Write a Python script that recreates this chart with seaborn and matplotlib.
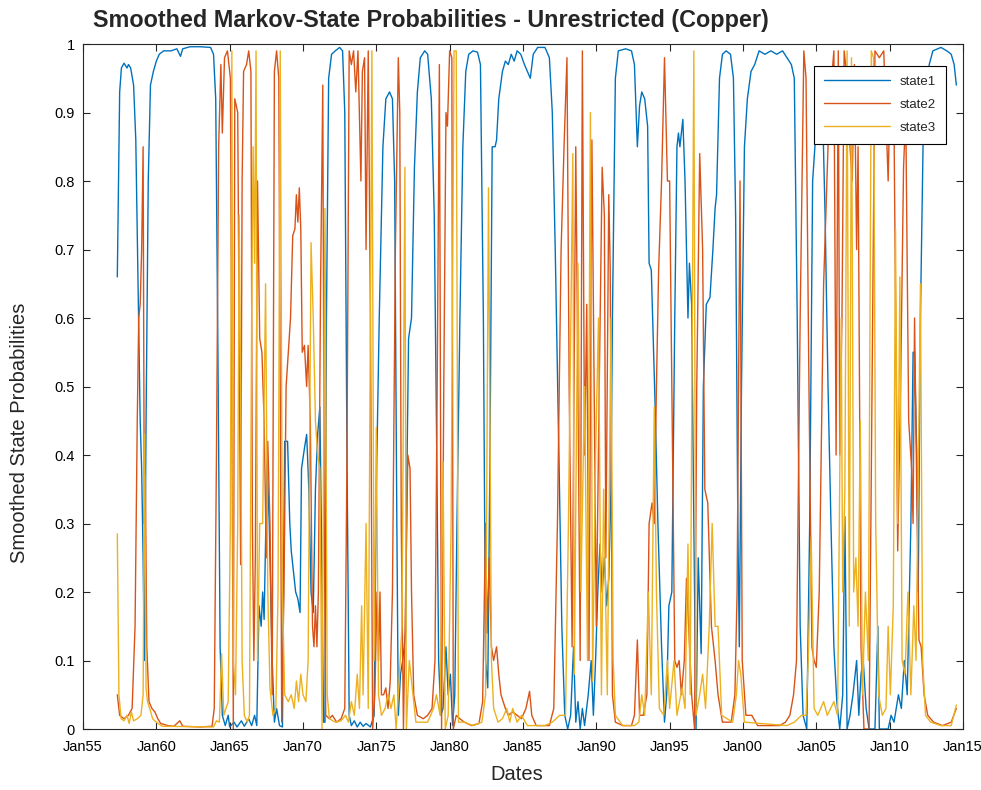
import numpy as np
import pandas as pd
import matplotlib
matplotlib.use("Agg")
import matplotlib.pyplot as plt
import seaborn as sns

# Smoothed probabilities of the three Markov states (decimal year, probability)
state1_t = [1957.34, 1957.5, 1957.62, 1957.8, 1958.0, 1958.1, 1958.25, 1958.45, 1958.6, 1958.75,
            1958.9, 1959.0, 1959.1, 1959.18, 1959.3, 1959.45, 1959.6, 1959.8, 1960.0, 1960.2,
            1960.5, 1961.0, 1961.4, 1961.65, 1961.8, 1962.3, 1963.0, 1963.7, 1963.9, 1964.05,
            1964.2, 1964.35, 1964.5, 1964.7, 1964.9, 1965.0, 1965.3, 1965.5, 1965.8, 1966.0,
            1966.3, 1966.5, 1966.7, 1966.85, 1967.0, 1967.15, 1967.25, 1967.35, 1967.55, 1967.7,
            1967.9, 1968.05, 1968.2, 1968.4, 1968.6, 1968.75, 1968.95, 1969.1, 1969.2, 1969.3,
            1969.5, 1969.65, 1969.8, 1969.9, 1970.1, 1970.25, 1970.4, 1970.55, 1970.7, 1970.85,
            1971.0, 1971.15, 1971.25, 1971.4, 1971.5, 1971.6, 1971.75, 1971.95, 1972.2, 1972.5,
            1972.7, 1972.85, 1973.0, 1973.15, 1973.3, 1973.5, 1973.7, 1973.9, 1974.1, 1974.3,
            1974.6, 1974.85, 1975.0, 1975.2, 1975.45, 1975.65, 1975.9, 1976.1, 1976.25, 1976.4,
            1976.5, 1976.65, 1976.8, 1977.0, 1977.1, 1977.2, 1977.4, 1977.6, 1977.8, 1978.0,
            1978.3, 1978.5, 1978.75, 1978.95, 1979.1, 1979.25, 1979.4, 1979.55, 1979.75, 1979.9,
            1980.05, 1980.2, 1980.35, 1980.5, 1980.7, 1980.9, 1981.1, 1981.3, 1981.6, 1981.9,
            1982.1, 1982.3, 1982.45, 1982.6, 1982.75, 1982.9, 1983.1, 1983.2, 1983.35, 1983.6,
            1983.8, 1984.0, 1984.2, 1984.4, 1984.6, 1984.85, 1985.1, 1985.3, 1985.5, 1985.7,
            1986.0, 1986.5, 1986.8, 1987.0, 1987.2, 1987.45, 1987.65, 1987.85, 1988.05, 1988.25,
            1988.45, 1988.6, 1988.75, 1988.9, 1989.05, 1989.2, 1989.45, 1989.65, 1989.8, 1989.95,
            1990.1, 1990.25, 1990.4, 1990.55, 1990.7, 1990.85, 1991.0, 1991.1, 1991.3, 1991.5,
            1992.0, 1992.4, 1992.6, 1992.8, 1992.95, 1993.1, 1993.3, 1993.5, 1993.6, 1993.75,
            1994.0, 1994.2, 1994.45, 1994.65, 1994.8, 1994.95, 1995.15, 1995.35, 1995.5, 1995.6,
            1995.7, 1995.9, 1996.05, 1996.25, 1996.35, 1996.5, 1996.65, 1996.8, 1996.95, 1997.15,
            1997.3, 1997.5, 1997.75, 1997.95, 1998.1, 1998.2, 1998.4, 1998.6, 1998.85, 1999.15,
            1999.35, 1999.5, 1999.65, 1999.75, 1999.9, 2000.1, 2000.3, 2000.55, 2000.8, 2001.1,
            2001.5, 2001.9, 2002.3, 2002.7, 2003.0, 2003.3, 2003.5, 2003.7, 2003.9, 2004.1,
            2004.35, 2004.55, 2004.75, 2005.0, 2005.2, 2005.4, 2005.6, 2005.8, 2006.0, 2006.2,
            2006.4, 2006.6, 2006.8, 2006.95, 2007.1, 2007.3, 2007.5, 2007.75, 2007.9, 2008.05,
            2008.2, 2008.4, 2008.6, 2009.0, 2009.2, 2009.3, 2009.9, 2010.1, 2010.3, 2010.6,
            2010.8, 2011.0, 2011.2, 2011.45, 2011.6, 2011.7, 2011.85, 2011.95, 2012.1, 2012.3,
            2012.5, 2012.7, 2012.95, 2013.5, 2013.9, 2014.2, 2014.4, 2014.55]
state1_p = [0.66, 0.93, 0.965, 0.972, 0.965, 0.97, 0.965, 0.94, 0.86, 0.65,
            0.45, 0.38, 0.25, 0.10, 0.45, 0.8, 0.94, 0.96, 0.975, 0.985,
            0.99, 0.99, 0.993, 0.982, 0.993, 0.996, 0.996, 0.995, 0.985, 0.92,
            0.55, 0.12, 0.02, 0.005, 0.02, 0.003, 0.01, 0.003, 0.012, 0.004,
            0.015, 0.005, 0.02, 0.005, 0.18, 0.15, 0.2, 0.16, 0.39, 0.3,
            0.1, 0.01, 0.03, 0.005, 0.003, 0.42, 0.42, 0.3, 0.26, 0.24,
            0.2, 0.19, 0.17, 0.38, 0.41, 0.43, 0.35, 0.2, 0.17, 0.35,
            0.43, 0.47, 0.3, 0.01, 0.01, 0.6, 0.95, 0.985, 0.99, 0.995,
            0.99, 0.9, 0.4, 0.02, 0.005, 0.012, 0.003, 0.01, 0.004, 0.008,
            0.003, 0.02, 0.35, 0.6, 0.85, 0.92, 0.93, 0.92, 0.8, 0.3,
            0.02, 0.08, 0.1, 0.14, 0.4, 0.57, 0.6, 0.82, 0.93, 0.98,
            0.99, 0.985, 0.92, 0.75, 0.45, 0.1, 0.02, 0.03, 0.12, 0.05,
            0.08, 0.005, 0.05, 0.3, 0.6, 0.85, 0.96, 0.985, 0.99, 0.988,
            0.97, 0.6, 0.1, 0.06, 0.4, 0.85, 0.85, 0.86, 0.92, 0.96,
            0.975, 0.97, 0.985, 0.975, 0.99, 0.985, 0.97, 0.96, 0.95, 0.985,
            0.995, 0.995, 0.98, 0.9, 0.7, 0.4, 0.15, 0.02, 0.0, 0.02,
            0.12, 0.01, 0.04, 0.0, 0.03, 0.005, 0.05, 0.1, 0.02, 0.1,
            0.2, 0.27, 0.2, 0.25, 0.18, 0.22, 0.35, 0.6, 0.95, 0.99,
            0.993, 0.99, 0.97, 0.85, 0.91, 0.93, 0.92, 0.88, 0.68, 0.67,
            0.48, 0.3, 0.12, 0.01, 0.05, 0.18, 0.2, 0.6, 0.85, 0.87,
            0.85, 0.89, 0.8, 0.6, 0.68, 0.62, 0.3, 0.0, 0.25, 0.11,
            0.5, 0.62, 0.63, 0.7, 0.76, 0.78, 0.95, 0.985, 0.99, 0.985,
            0.95, 0.75, 0.3, 0.12, 0.5, 0.85, 0.92, 0.96, 0.97, 0.99,
            0.985, 0.99, 0.985, 0.99, 0.98, 0.97, 0.95, 0.6, 0.15, 0.02,
            0.0, 0.3, 0.8, 0.88, 0.91, 0.93, 0.75, 0.5, 0.3, 0.12,
            0.04, 0.0, 0.05, 0.31, 0.0, 0.02, 0.05, 0.1, 0.02, 0.08,
            0.1, 0.03, 0.0, 0.0, 0.15, 0.0, 0.0, 0.02, 0.01, 0.05,
            0.03, 0.1, 0.05, 0.3, 0.55, 0.55, 0.4, 0.2, 0.6, 0.88,
            0.93, 0.97, 0.99, 0.995, 0.99, 0.985, 0.97, 0.94]

state2_t = [1957.34, 1957.5, 1957.8, 1958.1, 1958.35, 1958.55, 1958.7, 1958.8, 1958.9, 1959.0,
            1959.1, 1959.18, 1959.25, 1959.35, 1959.5, 1959.7, 1959.9, 1960.1, 1960.3, 1960.8,
            1961.2, 1961.6, 1961.8, 1963.0, 1963.8, 1963.95, 1964.1, 1964.25, 1964.4, 1964.5,
            1964.65, 1964.85, 1965.05, 1965.15, 1965.25, 1965.35, 1965.55, 1965.75, 1965.85, 1965.95,
            1966.15, 1966.3, 1966.45, 1966.55, 1966.65, 1966.75, 1966.9, 1967.05, 1967.2, 1967.35,
            1967.5, 1967.6, 1967.75, 1967.9, 1968.05, 1968.2, 1968.35, 1968.45, 1968.55, 1968.7,
            1968.85, 1969.0, 1969.15, 1969.3, 1969.45, 1969.55, 1969.65, 1969.75, 1969.85, 1969.95,
            1970.1, 1970.25, 1970.35, 1970.5, 1970.65, 1970.75, 1970.85, 1970.95, 1971.05, 1971.2,
            1971.35, 1971.45, 1971.55, 1971.8, 1972.0, 1972.3, 1972.6, 1972.85, 1973.0, 1973.15,
            1973.3, 1973.45, 1973.6, 1973.75, 1973.95, 1974.05, 1974.2, 1974.3, 1974.45, 1974.6,
            1974.75, 1974.9, 1975.05, 1975.15, 1975.25, 1975.35, 1975.5, 1975.65, 1975.8, 1975.95,
            1976.1, 1976.3, 1976.5, 1976.6, 1976.7, 1976.85, 1977.0, 1977.15, 1977.3, 1977.4,
            1977.55, 1977.8, 1978.2, 1978.5, 1978.8, 1979.0, 1979.15, 1979.3, 1979.45, 1979.6,
            1979.75, 1979.85, 1980.0, 1980.15, 1980.25, 1980.45, 1980.7, 1981.0, 1981.5, 1982.0,
            1982.25, 1982.45, 1982.55, 1982.7, 1982.85, 1983.0, 1983.2, 1983.35, 1983.5, 1983.8,
            1984.0, 1984.3, 1984.6, 1984.9, 1985.2, 1985.45, 1985.6, 1985.9, 1986.8, 1987.1,
            1987.35, 1987.6, 1987.8, 1988.0, 1988.15, 1988.35, 1988.6, 1988.75, 1988.9, 1989.05,
            1989.2, 1989.35, 1989.5, 1989.7, 1989.85, 1990.0, 1990.2, 1990.4, 1990.55, 1990.65,
            1990.85, 1990.95, 1991.1, 1991.3, 1991.8, 1992.4, 1992.6, 1992.8, 1992.95, 1993.2,
            1993.45, 1993.6, 1993.8, 1993.95, 1994.1, 1994.25, 1994.45, 1994.65, 1994.85, 1995.0,
            1995.15, 1995.35, 1995.5, 1995.65, 1995.8, 1996.0, 1996.15, 1996.3, 1996.5, 1996.7,
            1996.85, 1997.05, 1997.25, 1997.4, 1997.6, 1997.85, 1998.1, 1998.3, 1998.6, 1999.2,
            1999.45, 1999.6, 1999.8, 1999.95, 2000.2, 2000.6, 2001.0, 2002.5, 2002.9, 2003.2,
            2003.45, 2003.65, 2003.9, 2004.15, 2004.3, 2004.5, 2004.7, 2004.85, 2005.0, 2005.2,
            2005.5, 2005.8, 2006.05, 2006.2, 2006.35, 2006.5, 2006.6, 2006.75, 2006.9, 2007.1,
            2007.3, 2007.45, 2007.6, 2007.75, 2007.85, 2008.05, 2008.25, 2008.6, 2008.8, 2009.0,
            2009.3, 2009.6, 2009.9, 2010.05, 2010.3, 2010.55, 2010.75, 2010.95, 2011.1, 2011.3,
            2011.5, 2011.6, 2011.7, 2011.85, 2012.0, 2012.15, 2012.35, 2012.6, 2013.0, 2013.6,
            2014.2, 2014.55]
state2_p = [0.05, 0.02, 0.015, 0.02, 0.03, 0.15, 0.45, 0.6, 0.62, 0.7,
            0.85, 0.3, 0.37, 0.12, 0.04, 0.03, 0.025, 0.015, 0.008, 0.005,
            0.004, 0.012, 0.004, 0.003, 0.004, 0.03, 0.4, 0.85, 0.97, 0.87,
            0.98, 0.99, 0.95, 0.5, 0.0, 0.92, 0.9, 0.24, 0.8, 0.96,
            0.97, 0.99, 0.96, 0.3, 0.1, 0.25, 0.8, 0.57, 0.55, 0.45,
            0.25, 0.42, 0.3, 0.05, 0.96, 0.99, 0.95, 0.5, 0.01, 0.2,
            0.5, 0.55, 0.6, 0.72, 0.73, 0.78, 0.74, 0.79, 0.73, 0.55,
            0.56, 0.5, 0.56, 0.45, 0.15, 0.12, 0.18, 0.12, 0.2, 0.65,
            0.94, 0.3, 0.02, 0.015, 0.02, 0.01, 0.015, 0.03, 0.4, 0.99,
            0.97, 0.99, 0.93, 0.99, 0.8, 0.96, 0.98, 0.7, 0.99, 0.6,
            0.0, 0.05, 0.2, 0.1, 0.2, 0.05, 0.05, 0.06, 0.03, 0.07,
            0.2, 0.7, 0.98, 0.9, 0.3, 0.0, 0.2, 0.4, 0.38, 0.2,
            0.05, 0.02, 0.015, 0.02, 0.03, 0.1, 0.5, 0.97, 0.0, 0.5,
            0.9, 0.88, 0.99, 0.98, 0.0, 0.02, 0.015, 0.01, 0.005, 0.008,
            0.04, 0.3, 0.14, 0.25, 0.12, 0.1, 0.12, 0.08, 0.05, 0.03,
            0.02, 0.025, 0.02, 0.015, 0.03, 0.055, 0.02, 0.005, 0.005, 0.03,
            0.3, 0.7, 0.85, 0.98, 0.5, 0.12, 0.85, 0.5, 0.1, 0.99,
            0.4, 0.62, 0.1, 0.86, 0.5, 0.15, 0.5, 0.82, 0.75, 0.25,
            0.78, 0.67, 0.05, 0.01, 0.005, 0.005, 0.02, 0.13, 0.02, 0.02,
            0.05, 0.3, 0.33, 0.3, 0.5, 0.67, 0.8, 0.98, 0.8, 0.8,
            0.5, 0.1, 0.09, 0.1, 0.05, 0.1, 0.22, 0.15, 0.05, 0.0,
            0.5, 0.84, 0.7, 0.35, 0.33, 0.15, 0.1, 0.05, 0.01, 0.01,
            0.05, 0.2, 0.8, 0.1, 0.02, 0.02, 0.005, 0.005, 0.01, 0.02,
            0.05, 0.1, 0.6, 0.99, 0.95, 0.5, 0.12, 0.1, 0.09, 0.2,
            0.65, 0.85, 0.95, 0.99, 0.4, 0.99, 0.4, 0.6, 0.99, 0.95,
            0.85, 0.8, 0.97, 0.7, 0.85, 0.12, 0.0, 0.0, 0.5, 0.99,
            0.98, 0.99, 0.8, 0.95, 0.88, 0.26, 0.5, 0.82, 0.9, 0.45,
            0.38, 0.3, 0.6, 0.35, 0.13, 0.12, 0.05, 0.02, 0.01, 0.005,
            0.01, 0.03]

state3_t = [1957.34, 1957.45, 1957.6, 1957.8, 1958.0, 1958.15, 1958.3, 1958.45, 1958.7, 1958.95,
            1959.1, 1959.2, 1959.3, 1959.4, 1959.55, 1959.75, 1960.0, 1960.4, 1963.9, 1964.1,
            1964.3, 1964.45, 1964.6, 1964.9, 1965.05, 1965.15, 1965.25, 1965.4, 1965.55, 1965.65,
            1965.75, 1965.85, 1966.0, 1966.2, 1966.35, 1966.5, 1966.6, 1966.7, 1966.8, 1966.9,
            1967.05, 1967.25, 1967.45, 1967.6, 1967.75, 1967.95, 1968.15, 1968.3, 1968.45, 1968.6,
            1968.75, 1969.0, 1969.2, 1969.4, 1969.55, 1969.7, 1969.85, 1970.0, 1970.2, 1970.35,
            1970.55, 1970.7, 1970.85, 1971.0, 1971.15, 1971.3, 1971.5, 1971.65, 1971.8, 1972.2,
            1972.6, 1972.9, 1973.1, 1973.3, 1973.5, 1973.7, 1973.85, 1974.0, 1974.1, 1974.3,
            1974.45, 1974.7, 1974.85, 1975.0, 1975.15, 1975.35, 1975.6, 1975.8, 1976.0, 1976.2,
            1976.35, 1976.5, 1976.75, 1976.95, 1977.05, 1977.25, 1977.45, 1977.7, 1978.5, 1978.9,
            1979.1, 1979.35, 1979.55, 1979.7, 1979.9, 1980.1, 1980.3, 1980.45, 1980.6, 1981.0,
            1981.6, 1982.2, 1982.45, 1982.65, 1982.75, 1982.85, 1983.0, 1983.3, 1983.6, 1983.9,
            1984.1, 1984.3, 1984.6, 1984.9, 1985.3, 1986.5, 1987.0, 1987.5, 1987.9, 1988.1,
            1988.4, 1988.5, 1988.75, 1988.95, 1989.2, 1989.4, 1989.6, 1989.75, 1989.95, 1990.15,
            1990.35, 1990.5, 1990.75, 1991.0, 1991.15, 1991.3, 1991.8, 1992.6, 1992.9, 1993.1,
            1993.3, 1993.55, 1993.75, 1993.95, 1994.1, 1994.3, 1994.6, 1994.85, 1995.0, 1995.3,
            1995.5, 1995.85, 1996.05, 1996.25, 1996.4, 1996.65, 1996.8, 1997.05, 1997.25, 1997.45,
            1997.7, 1997.9, 1998.1, 1998.3, 1998.55, 1999.3, 1999.55, 1999.7, 1999.85, 2000.1,
            2003.0, 2003.5, 2004.0, 2004.3, 2004.45, 2004.65, 2004.85, 2005.1, 2005.5, 2005.75,
            2006.2, 2006.45, 2006.7, 2006.8, 2006.95, 2007.1, 2007.25, 2007.4, 2007.55, 2007.7,
            2007.85, 2008.0, 2008.15, 2008.35, 2008.55, 2008.75, 2008.9, 2009.05, 2009.25, 2009.5,
            2009.75, 2009.9, 2010.05, 2010.25, 2010.4, 2010.55, 2010.7, 2010.85, 2011.05, 2011.25,
            2011.45, 2011.65, 2011.8, 2012.0, 2012.1, 2012.25, 2012.45, 2012.8, 2013.5, 2014.2,
            2014.55]
state3_p = [0.285, 0.05, 0.015, 0.012, 0.02, 0.008, 0.025, 0.012, 0.015, 0.02,
            0.05, 0.43, 0.06, 0.04, 0.03, 0.015, 0.01, 0.004, 0.003, 0.012,
            0.01, 0.11, 0.02, 0.04, 0.3, 0.99, 0.1, 0.05, 0.3, 0.75,
            0.5, 0.1, 0.02, 0.01, 0.02, 0.6, 0.85, 0.68, 0.99, 0.1,
            0.3, 0.3, 0.65, 0.2, 0.06, 0.02, 0.03, 0.2, 0.99, 0.2,
            0.05, 0.04, 0.05, 0.03, 0.07, 0.04, 0.08, 0.05, 0.04, 0.1,
            0.71, 0.6, 0.45, 0.4, 0.38, 0.0, 0.76, 0.05, 0.015, 0.01,
            0.012, 0.02, 0.01, 0.04, 0.02, 0.08, 0.03, 0.18, 0.05, 0.3,
            0.03, 0.99, 0.1, 0.44, 0.05, 0.02, 0.03, 0.05, 0.03, 0.05,
            0.0, 0.05, 0.15, 0.82, 0.0, 0.1, 0.06, 0.01, 0.01, 0.03,
            0.05, 0.02, 0.39, 0.0, 0.02, 0.3, 0.99, 0.99, 0.01, 0.01,
            0.005, 0.01, 0.05, 0.79, 0.45, 0.1, 0.03, 0.01, 0.015, 0.03,
            0.01, 0.03, 0.01, 0.02, 0.005, 0.005, 0.01, 0.02, 0.02, 0.3,
            0.84, 0.08, 0.68, 0.2, 0.5, 0.1, 0.9, 0.07, 0.4, 0.6,
            0.05, 0.35, 0.05, 0.6, 0.1, 0.02, 0.005, 0.005, 0.01, 0.05,
            0.02, 0.2, 0.05, 0.47, 0.2, 0.03, 0.02, 0.1, 0.03, 0.1,
            0.02, 0.06, 0.03, 0.27, 0.05, 0.99, 0.02, 0.05, 0.08, 0.03,
            0.15, 0.3, 0.15, 0.15, 0.02, 0.01, 0.05, 0.1, 0.08, 0.01,
            0.005, 0.01, 0.02, 0.02, 0.1, 0.28, 0.03, 0.02, 0.04, 0.02,
            0.04, 0.02, 0.6, 0.2, 0.35, 0.99, 0.15, 0.98, 0.2, 0.25,
            0.15, 0.45, 0.05, 0.2, 0.1, 0.99, 0.98, 0.3, 0.05, 0.02,
            0.03, 0.15, 0.05, 0.18, 0.73, 0.3, 0.66, 0.1, 0.08, 0.2,
            0.05, 0.18, 0.1, 0.45, 0.65, 0.1, 0.02, 0.01, 0.005, 0.005,
            0.035]

tick_years = [1955, 1960, 1965, 1970, 1975, 1980, 1985, 1990, 1995, 2000, 2005, 2010, 2015]
tick_labels = ["Jan55", "Jan60", "Jan65", "Jan70", "Jan75", "Jan80", "Jan85",
               "Jan90", "Jan95", "Jan00", "Jan05", "Jan10", "Jan15"]
series_names = ["state1", "state2", "state3"]
series_colors = ["#0072BD", "#D95319", "#EDB120"]

sns.set_style("ticks")
plt.rcParams["font.family"] = ["Liberation Sans", "DejaVu Sans"]

frames = []
for name, t, p in [("state1", state1_t, state1_p),
                   ("state2", state2_t, state2_p),
                   ("state3", state3_t, state3_p)]:
    frames.append(pd.DataFrame({"date": t, "prob": p, "state": name}))
df = pd.concat(frames, ignore_index=True)

fig = plt.figure(figsize=(9.81, 7.90), dpi=100)
ax = fig.add_axes([0.0846, 0.0772, 0.8970, 0.8671])

for name, color in zip(series_names, series_colors):
    sub = df[df["state"] == name]
    sns.lineplot(data=sub, x="date", y="prob", ax=ax, color=color, label=name,
                 linewidth=1.0, estimator=None, sort=False)

ax.set_xlim(1955, 2015)
ax.set_ylim(0, 1)
ax.set_xticks(tick_years)
ax.set_xticklabels(tick_labels)
ax.set_yticks(np.round(np.arange(0, 1.01, 0.1), 1))
ax.set_yticklabels(["0", "0.1", "0.2", "0.3", "0.4", "0.5", "0.6", "0.7", "0.8", "0.9", "1"])
ax.tick_params(direction="in", top=True, right=True, length=5, width=0.8,
               labelsize=10.5, colors="#262626", labelcolor="black")
ax.tick_params(axis="x", pad=8)
ax.tick_params(axis="y", pad=6)
for s in ax.spines.values():
    s.set_visible(True)
    s.set_color("#262626")
    s.set_linewidth(0.8)
ax.set_xlabel("")
ax.set_ylabel("")

fig.text(93 / 981, 1 - 20 / 790, "Smoothed Markov-State Probabilities - Unrestricted (Copper)",
         fontsize=16.8, fontweight="bold", ha="left", va="center")
fig.text(20 / 981, 1 - 433 / 790, "Smoothed State Probabilities", fontsize=14.5,
         rotation=90, ha="center", va="center")
fig.text(517 / 981, 1 - 775 / 790, "Dates", fontsize=14.5, ha="center", va="center")

leg = ax.legend(loc="upper right", bbox_to_anchor=(0.981, 0.968), fontsize=9.5,
                frameon=True, fancybox=False, framealpha=1, edgecolor="black",
                handlelength=5.0, borderpad=0.75, labelspacing=0.8, borderaxespad=0)
leg.get_frame().set_linewidth(0.8)

fig.savefig("out.png", dpi=100)
